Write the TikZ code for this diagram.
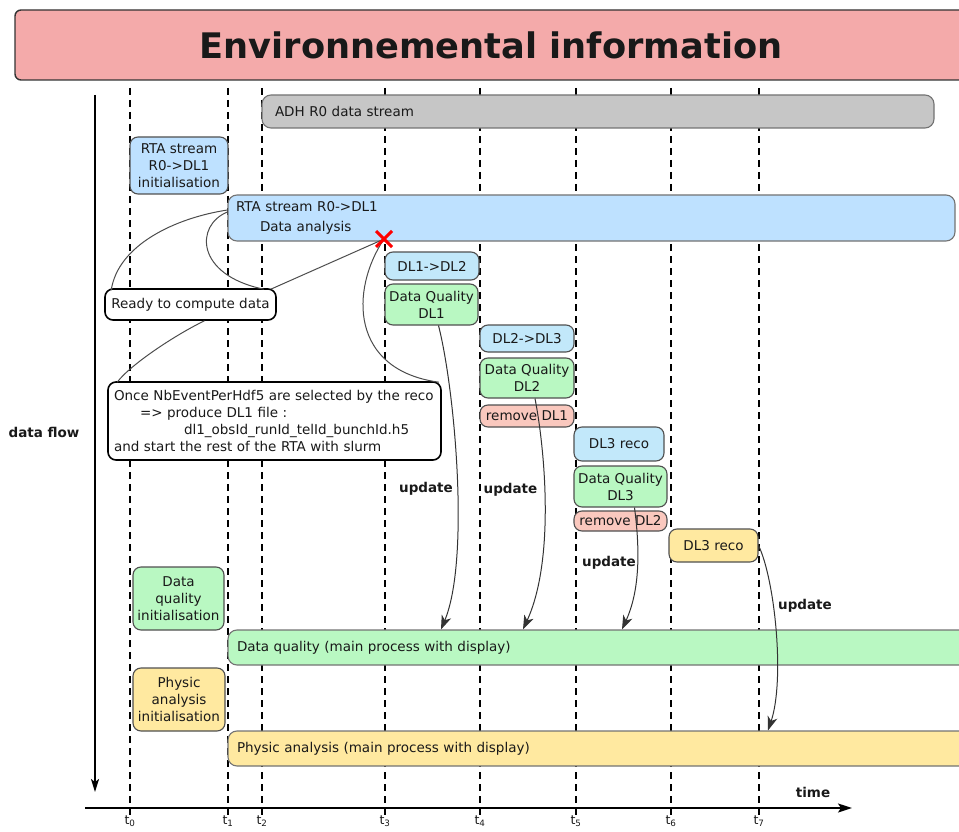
\documentclass[tikz,border=0pt]{standalone}
\usepackage{fontspec}
\setmainfont{DejaVu Sans}
\usetikzlibrary{arrows.meta}
\definecolor{titlered}{HTML}{F4AAAA}
\definecolor{streamgray}{HTML}{C6C6C6}
\definecolor{rtablue}{HTML}{BEE1FF}
\definecolor{stepblue}{HTML}{C2E8FA}
\definecolor{dqgreen}{HTML}{B9F8C2}
\definecolor{rmsalmon}{HTML}{FAC8BE}
\definecolor{payellow}{HTML}{FFE9A0}
\definecolor{edgegray}{HTML}{505050}
\begin{document}
\begin{tikzpicture}[x=1pt,y=-1pt,
  every node/.style={font=\fontsize{13.5}{17}\selectfont, text=black!90},
  proc/.style={draw=edgegray, line width=1.1pt, rounded corners=8pt, inner sep=0pt, align=center},
  wideproc/.style={draw=edgegray!80, line width=1.1pt, rounded corners=9pt, inner ysep=0pt, align=left},
  note/.style={draw=black, line width=1.6pt, rounded corners=8pt, inner sep=0pt, fill=white},
  tline/.style={dash pattern=on 7pt off 5pt, line width=1.6pt},
  link/.style={draw=black!70, line width=1pt},
  upd/.style={draw=black!80, line width=1pt, -{Stealth[length=14pt,width=10pt,inset=4pt]}},
  lbl/.style={font=\fontsize{13.5}{17}\selectfont\bfseries},
]
\useasboundingbox (0,0) rectangle (959,832);

% title banner
\node[draw=black!80, line width=1.4pt, rounded corners=6pt, fill=titlered,
      minimum width=952pt, minimum height=70pt, inner sep=0pt,
      font=\fontsize{35.2}{42}\selectfont\bfseries] (title) at (491,45) {Environnemental information};

% time lines
\foreach \x/\i in {130/0,228/1,262/2,385/3,480/4,576/5,671/6,759/7}{
  \draw[tline] (\x,88) -- (\x,808);
  \draw[line width=1.6pt] (\x,808) -- (\x,815);
  \node[anchor=north, inner sep=0pt, font=\fontsize{12.5}{14}\selectfont] (t\i) at (\x,815.5) {t\textsubscript{\i}};
}

% axes
\coordinate (flowtop) at (95,95);
\coordinate (flowend) at (95,792);
\draw[line width=1.8pt, -{Stealth[length=13pt,width=8pt,inset=3pt]}] (flowtop) -- (flowend);
\coordinate (timestart) at (85,808);
\coordinate (timeend) at (852,808);
\draw[line width=1.8pt, -{Stealth[length=14pt,width=9pt,inset=3pt]}] (timestart) -- (timeend);
\node[lbl] (timelbl) at (813,792) {time};
\node[lbl] (flowlbl) at (44,432) {data flow};

% streams
\node[wideproc, fill=streamgray, inner xsep=13pt, text width=646pt, minimum height=33pt] (adh) at (598,111.5) {ADH R0 data stream};
\node[proc, fill=rtablue, minimum width=98pt, minimum height=57pt] (rtainit) at (179,165.5) {RTA stream\\R0->DL1\\initialisation};
\node[wideproc, fill=rtablue, inner xsep=8pt, text width=711pt, minimum height=46pt, font=\fontsize{13.5}{20}\selectfont] (rta) at (591.5,218) {RTA stream R0->DL1\\\hspace*{24pt}Data analysis};

% processing steps
\node[proc, fill=stepblue, minimum width=94pt, minimum height=28pt] (dlonetwo) at (432,266) {DL1->DL2};
\node[proc, fill=dqgreen, minimum width=93pt, minimum height=41pt] (dqone) at (431.5,304.5) {Data Quality\\DL1};
\node[proc, fill=stepblue, minimum width=94pt, minimum height=27pt] (dltwothree) at (527,338.5) {DL2->DL3};
\node[proc, fill=dqgreen, minimum width=94pt, minimum height=40pt] (dqtwo) at (527,378) {Data Quality\\DL2};
\node[proc, fill=rmsalmon, minimum width=94pt, minimum height=22pt] (rmone) at (527,416) {remove DL1};
\node[proc, fill=stepblue, minimum width=90pt, minimum height=34pt] (dlthree) at (619,444) {DL3 reco};
\node[proc, fill=dqgreen, minimum width=93pt, minimum height=41pt] (dqthree) at (620.5,486.5) {Data Quality\\DL3};
\node[proc, fill=rmsalmon, minimum width=93pt, minimum height=20pt] (rmtwo) at (620.5,521) {remove DL2};
\node[proc, fill=payellow, minimum width=89pt, minimum height=33pt] (dlthreepa) at (713.5,545.5) {DL3 reco};

% initialisations and main processes
\node[proc, fill=dqgreen, minimum width=91pt, minimum height=63pt] (dqinit) at (178.5,598.5) {Data\\quality\\initialisation};
\node[wideproc, fill=dqgreen, inner xsep=9pt, text width=764pt, minimum height=35pt] (dqmain) at (619,647.5) {Data quality (main process with display)};
\node[proc, fill=payellow, minimum width=92pt, minimum height=63pt] (painit) at (179,699.5) {Physic\\analysis\\initialisation};
\node[wideproc, fill=payellow, inner xsep=9pt, text width=764pt, minimum height=35pt] (pamain) at (619,748.5) {Physic analysis (main process with display)};

% notes
\node[note, minimum width=171pt, minimum height=31pt] (ready) at (190.5,304.5) {Ready to compute data};
\node[note, inner xsep=6pt, text width=321pt, minimum height=78pt, align=left] (once) at (274.5,421)
  {\mbox{Once NbEventPerHdf5 are selected by the reco}\\
   \hspace*{26pt}=> produce DL1 file :\\
   \hspace*{70pt}dl1\_obsId\_runId\_telId\_bunchId.h5\\
   and start the rest of the RTA with slurm};

% annotation links
\coordinate (stop) at (384,239);
\draw[link] ([yshift=8pt]rta.west) .. controls (175,218) and (118,245) .. ([xshift=7pt,yshift=-2pt]ready.north west);
\draw[link] ([yshift=6pt]rta.west) .. controls (195,225) and (195,275) .. ([xshift=-13pt,yshift=-1pt]ready.north east);
\draw[link] ([xshift=-6pt,yshift=-1pt]ready.north east) -- (stop);
\draw[link] ([xshift=14pt]ready.south) .. controls (175,335) and (130,365) .. ([xshift=10pt,yshift=-1pt]once.north west);
\draw[link] (stop) .. controls (350,290) and (350,370) .. ([xshift=-3pt,yshift=-1pt]once.north east);

% stop mark
\draw[red, line width=3pt] ([xshift=-8pt,yshift=8pt]stop) -- ([xshift=8pt,yshift=-8pt]stop)
                            ([xshift=-8pt,yshift=-8pt]stop) -- ([xshift=8pt,yshift=8pt]stop);

% updates
\draw[upd] ([xshift=7pt]dqone.south) .. controls (455,390) and (470,560) .. ([xshift=-178pt]dqmain.north);
\draw[upd] ([xshift=8pt]dqtwo.south) .. controls (545,450) and (555,560) .. ([xshift=-96pt]dqmain.north);
\draw[upd] ([xshift=14pt]dqthree.south) .. controls (640,550) and (640,590) .. ([xshift=3pt]dqmain.north);
\draw[upd] (dlthreepa.east) .. controls (775,580) and (785,680) .. ([xshift=149pt]pamain.north);
\node[lbl] (u1) at (426,489) {update};
\node[lbl] (u2) at (510.5,490) {update};
\node[lbl] (u3) at (609,563) {update};
\node[lbl] (u4) at (805,606) {update};
\end{tikzpicture}
\end{document}
